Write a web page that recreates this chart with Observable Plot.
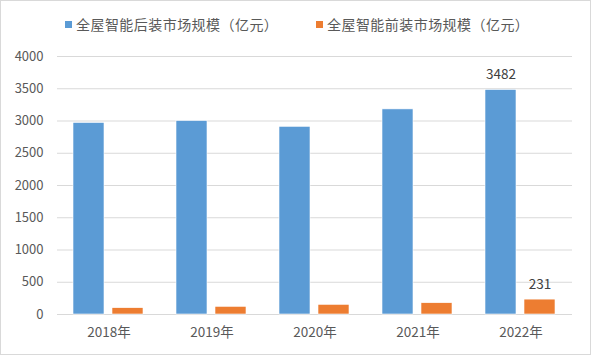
<!DOCTYPE html>
<html><head><meta charset="utf-8">
<script src="https://cdn.jsdelivr.net/npm/d3@7"></script>
<script src="https://cdn.jsdelivr.net/npm/@observablehq/plot@0.6"></script>
<style>
html,body{margin:0;padding:0;background:#fff;}
#wrap{position:relative;width:591px;height:355px;box-sizing:border-box;border:1px solid #d9d9d9;font-family:"Noto Sans CJK SC","Noto Sans",sans-serif;color:#595959;background:#fff;overflow:hidden;}
#legend{position:relative;height:39px;font-size:14px;letter-spacing:0.45px;}
.li{position:absolute;top:13px;height:20px;display:flex;align-items:center;white-space:nowrap;line-height:20px;}
.sw{width:7px;height:7px;margin-right:4px;}
svg{display:block;}
</style></head><body>
<div id="wrap"><div id="legend"></div><div id="chart"></div></div>
<script>
const years = ["2018年","2019年","2020年","2021年","2022年"];
const seriesNames = ["全屋智能后装市场规模（亿元）","全屋智能前装市场规模（亿元）"];
const afterMarket = [2970, 3000, 2910, 3180, 3482];
const beforeMarket = [98, 119, 150, 175, 231];
const yTicks = [0, 500, 1000, 1500, 2000, 2500, 3000, 3500, 4000];
const colors = ["#5B9BD5","#ED7D31"];
const labeledYear = "2022年";

const data = [];
years.forEach((y,i)=>{
  data.push({year:y, series:seriesNames[0], value:afterMarket[i]});
  data.push({year:y, series:seriesNames[1], value:beforeMarket[i]});
});

const legend = document.getElementById("legend");
const lx = [64, 315];
seriesNames.forEach((s,i)=>{
  const d = document.createElement("div");
  d.className="li"; d.style.left = lx[i]+"px";
  d.innerHTML = `<span class="sw" style="background:${colors[i]}"></span><span>${s}</span>`;
  legend.appendChild(d);
});

const chart = Plot.plot({
  width: 589, height: 314,
  marginTop: 16, marginBottom: 40, marginLeft: 54, marginRight: 17,
  style: {fontFamily: '"Noto Sans CJK SC","Noto Sans",sans-serif', fontSize: "13px", color: "#595959", background: "transparent"},
  fx: {domain: years, padding: 0, label: null},
  x: {domain: seriesNames, paddingInner: 0.2, paddingOuter: 0.41, axis: null},
  y: {domain: [0, 4000], label: null},
  color: {domain: seriesNames, range: colors},
  marks: [
    Plot.gridY(yTicks, {stroke: "#d9d9d9", strokeOpacity: 1, strokeWidth: 1}),
    Plot.axisY(yTicks, {tickSize: 0, tickPadding: 14, fontSize: 13, label: null, fill: "#595959", tickFormat: d3.format("d")}),
    Plot.axisFx({anchor: "bottom", tickSize: 0, tickPadding: 13, fontSize: 13.5, label: null, fill: "#595959"}),
    Plot.barY(data, {fx: "year", x: "series", y: "value", fill: "series", stroke: "#ffffff", strokeWidth: 0.6}),
    Plot.text(data.filter(d=>d.year===labeledYear), {fx: "year", x: "series", y: "value", text: d=>String(d.value), dy: -15, fontSize: 13.5, fill: "#404040"})
  ]
});
document.getElementById("chart").appendChild(chart);
</script></body></html>
